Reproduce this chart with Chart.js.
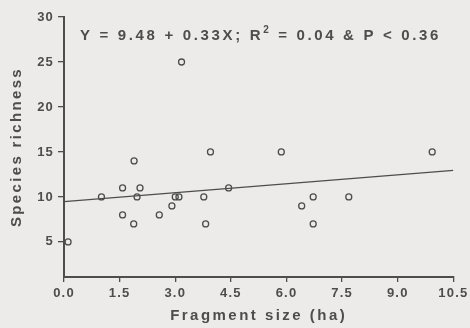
<!DOCTYPE html>
<html>
<head>
<meta charset="utf-8">
<script src="https://cdn.jsdelivr.net/npm/chart.js@4/dist/chart.umd.min.js"></script>
<style>
  html, body { margin: 0; padding: 0; background: #ecebe9; }
  #wrap { width: 470px; height: 328px; }
</style>
</head>
<body>
<div id="wrap"><canvas id="c" width="470" height="328"></canvas></div>
<script>
  // fragment size (ha) and species richness
  const fragmentSize = [0.11, 1.01, 1.58, 1.58, 1.88, 1.89, 1.97, 2.05, 2.57, 2.91, 3.0, 3.1, 3.17, 3.77, 3.82, 3.95, 4.44, 5.86, 6.41, 6.72, 6.72, 7.68, 9.93];
  const speciesRichness = [5, 10, 11, 8, 7, 14, 10, 11, 8, 9, 10, 10, 25, 10, 7, 15, 11, 15, 9, 10, 7, 10, 15];
  // regression line endpoints (Y = 9.48 + 0.33X)
  const fitX = [0, 10.5];
  const fitY = [9.48, 12.95];
  const xTicks = [0, 1.5, 3, 4.5, 6, 7.5, 9, 10.5];
  const yTicks = [5, 10, 15, 20, 25, 30];

  const xTitle = "Fragment size (ha)";
  const yTitle = "Species richness";

  const ink = "#4d4d4d";
  const font = "'Liberation Sans', Arial, sans-serif";

  // stretch text to a given width with letter spacing, like the scanned figure
  function spacingFor(ctx, text, width) {
    ctx.letterSpacing = "0px";
    const w = ctx.measureText(text).width;
    return Math.max(0, (width - w) / text.length);
  }

  const spacing = {
    id: "spacing",
    beforeDraw(chart) {
      chart.ctx.letterSpacing = "1.2px";
    },
  };

  const texts = {
    id: "texts",
    afterDraw(chart) {
      const ctx = chart.ctx;
      const area = chart.chartArea;
      ctx.save();
      ctx.fillStyle = ink;
      ctx.textBaseline = "alphabetic";

      // equation
      const a = "Y = 9.48 + 0.33X; R";
      const b = " = 0.04 & P < 0.36";
      ctx.font = `bold 15px ${font}`;
      ctx.letterSpacing = "0px";
      const wa = ctx.measureText(a).width;
      const wb = ctx.measureText(b).width;
      ctx.font = `bold 10px ${font}`;
      const w2 = ctx.measureText("2").width;
      const sp = (361 - wa - wb - w2) / (a.length + b.length + 1);
      ctx.letterSpacing = sp + "px";
      ctx.textAlign = "left";
      let x = 80;
      const y = 39.5;
      ctx.font = `bold 15px ${font}`;
      ctx.fillText(a, x, y);
      x += ctx.measureText(a).width;
      ctx.font = `bold 10px ${font}`;
      ctx.fillText("2", x, y - 7);
      x += ctx.measureText("2").width;
      ctx.font = `bold 15px ${font}`;
      ctx.fillText(b, x, y);

      // x title
      ctx.font = `bold 15px ${font}`;
      const sx = spacingFor(ctx, xTitle, 177);
      ctx.letterSpacing = sx + "px";
      ctx.textAlign = "left";
      ctx.fillText(xTitle, (area.left + area.right) / 2 - 88.5, 320);

      // y title
      const sy = spacingFor(ctx, yTitle, 160);
      ctx.letterSpacing = sy + "px";
      ctx.translate(21, 147);
      ctx.rotate(-Math.PI / 2);
      ctx.fillText(yTitle, -80, 0);
      ctx.restore();
    },
  };

  const scatterPts = fragmentSize.map((x, i) => ({ x, y: speciesRichness[i] }));
  const fitPts = fitX.map((x, i) => ({ x, y: fitY[i] }));

  new Chart(document.getElementById("c"), {
    type: "scatter",
    data: {
      datasets: [
        {
          data: scatterPts,
          pointStyle: "circle",
          pointRadius: 3,
          borderWidth: 1.3,
          borderColor: ink,
          backgroundColor: "rgba(0,0,0,0)",
        },
        {
          type: "line",
          data: fitPts,
          showLine: true,
          pointRadius: 0,
          borderColor: ink,
          borderWidth: 1.4,
          fill: false,
        },
      ],
    },
    options: {
      responsive: false,
      animation: false,
      layout: { padding: { top: 17, right: 16, left: 0, bottom: 0 } },
      plugins: { legend: { display: false }, tooltip: { enabled: false } },
      scales: {
        x: {
          type: "linear",
          min: 0,
          max: 10.5,
          afterBuildTicks: (s) => { s.ticks = xTicks.map((v) => ({ value: v })); },
          afterFit: (s) => { s.height = 51; },
          grid: { display: true, drawOnChartArea: false, drawTicks: true, tickLength: 5, color: ink, lineWidth: 1.3 },
          border: { display: true, color: ink, width: 2 },
          ticks: {
            color: ink,
            padding: 4,
            maxRotation: 0,
            font: { family: font, size: 13, weight: "bold" },
            callback: (v) => Number(v).toFixed(1),
          },
        },
        y: {
          type: "linear",
          min: 1.1,
          max: 30,
          afterBuildTicks: (s) => { s.ticks = yTicks.map((v) => ({ value: v })); },
          afterFit: (s) => { s.width = 64; },
          grid: { display: true, drawOnChartArea: false, drawTicks: true, tickLength: 6, color: ink, lineWidth: 1.3 },
          border: { display: true, color: ink, width: 2 },
          ticks: {
            color: ink,
            padding: 4,
            font: { family: font, size: 13, weight: "bold" },
          },
        },
      },
    },
    plugins: [spacing, texts],
  });
</script>
</body>
</html>
